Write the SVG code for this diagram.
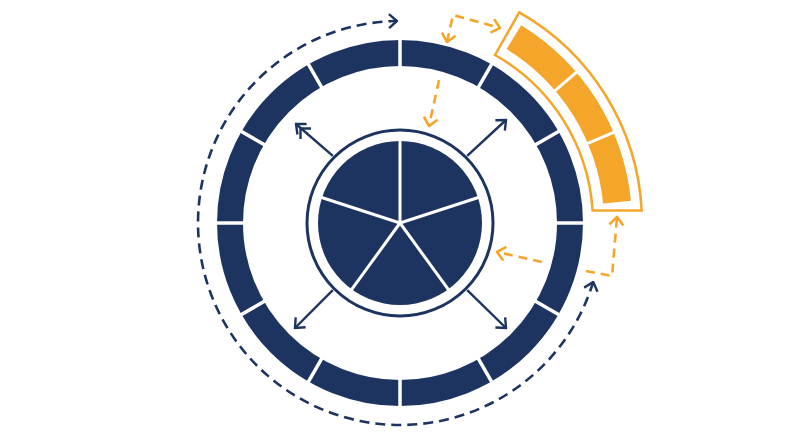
<svg xmlns="http://www.w3.org/2000/svg" width="800" height="447" viewBox="0 0 800 447">
  <style>
    .navy-fill { fill: #1d3461; }
    .ring { fill: none; stroke: #1d3461; stroke-width: 26; }
    .sep { stroke: #ffffff; stroke-width: 3.5; }
    .pie-sep { stroke: #ffffff; stroke-width: 3; }
    .outline { fill: none; stroke: #1d3461; stroke-width: 3; }
    .arrow { fill: none; stroke: #1d3461; stroke-width: 2.4; }
    .navy-dash { fill: none; stroke: #1d3461; stroke-width: 2.6; stroke-dasharray: 10 6; }
    .org-dash { fill: none; stroke: #f4a62a; stroke-width: 2.6; stroke-dasharray: 9 6; }
    .org-fill { fill: #f4a62a; }
    .org-outline { fill: none; stroke: #f4a62a; stroke-width: 2.5; stroke-linejoin: miter; }
  </style>
  <defs>
    <marker id="ah-navy" viewBox="0 0 11 16" refX="9.5" refY="8" markerWidth="11" markerHeight="16" markerUnits="userSpaceOnUse" orient="auto-start-reverse">
      <path d="M1.5,1 L9.5,8 L1.5,15" fill="none" stroke="#1d3461" stroke-width="2.4" stroke-dasharray="none"/>
    </marker>
    <marker id="ah-org" viewBox="0 0 11 16" refX="9.5" refY="8" markerWidth="11" markerHeight="16" markerUnits="userSpaceOnUse" orient="auto-start-reverse">
      <path d="M1.5,1 L9.5,8 L1.5,15" fill="none" stroke="#f4a62a" stroke-width="2.6" stroke-dasharray="none"/>
    </marker>
  </defs>

  <rect width="800" height="447" fill="#ffffff"/>

  <g id="outer-ring">
    <circle class="ring" cx="400" cy="223" r="170"/>
    <g class="sep">
      <line x1="400" y1="33" x2="400" y2="73"/>
      <line x1="400" y1="33" x2="400" y2="73" transform="rotate(30 400 223)"/>
      <line x1="400" y1="33" x2="400" y2="73" transform="rotate(60 400 223)"/>
      <line x1="400" y1="33" x2="400" y2="73" transform="rotate(90 400 223)"/>
      <line x1="400" y1="33" x2="400" y2="73" transform="rotate(120 400 223)"/>
      <line x1="400" y1="33" x2="400" y2="73" transform="rotate(150 400 223)"/>
      <line x1="400" y1="33" x2="400" y2="73" transform="rotate(180 400 223)"/>
      <line x1="400" y1="33" x2="400" y2="73" transform="rotate(210 400 223)"/>
      <line x1="400" y1="33" x2="400" y2="73" transform="rotate(240 400 223)"/>
      <line x1="400" y1="33" x2="400" y2="73" transform="rotate(270 400 223)"/>
      <line x1="400" y1="33" x2="400" y2="73" transform="rotate(300 400 223)"/>
      <line x1="400" y1="33" x2="400" y2="73" transform="rotate(330 400 223)"/>
    </g>
  </g>

  <g id="core">
    <circle class="outline" cx="400" cy="223" r="93"/>
    <circle class="navy-fill" cx="400" cy="223" r="82"/>
    <g class="pie-sep">
      <line x1="400" y1="223" x2="400" y2="139"/>
      <line x1="400" y1="223" x2="400" y2="139" transform="rotate(72 400 223)"/>
      <line x1="400" y1="223" x2="400" y2="139" transform="rotate(144 400 223)"/>
      <line x1="400" y1="223" x2="400" y2="139" transform="rotate(216 400 223)"/>
      <line x1="400" y1="223" x2="400" y2="139" transform="rotate(288 400 223)"/>
    </g>
  </g>

  <g id="orange-block">
    <path class="org-outline" d="M495,55 L519.2,12.4 A242 242 0 0 1 641.7,210.5 L592.6,210.5 A193 193 0 0 0 495,55 Z"/>
    <path class="org-fill" d="M506.6,49.1 L521.2,25.2 A232 232 0 0 1 630.9,200.8 L603.1,203.5 A204 204 0 0 0 506.6,49.1 Z"/>
    <line class="pie-sep" x1="552.1" y1="93.1" x2="579.5" y2="69.7"/>
    <line class="pie-sep" x1="584.1" y1="144.9" x2="617.2" y2="130.8"/>
  </g>

  <g id="connectors">
    <line class="arrow" x1="467.2" y1="155.8" x2="506" y2="120" marker-end="url(#ah-navy)"/>
    <line class="arrow" x1="467.2" y1="290.2" x2="506" y2="328" marker-end="url(#ah-navy)"/>
    <line class="arrow" x1="332.8" y1="290.2" x2="295" y2="328" marker-end="url(#ah-navy)"/>
    <line class="arrow" x1="332.8" y1="155.8" x2="296" y2="124" marker-end="url(#ah-navy)"/>
    <path class="arrow" d="M300.5,139 L300.5,128.5 L311,128.5"/>

    <path class="navy-dash" d="M593.2,282 A202 202 0 1 1 397,21" marker-start="url(#ah-navy)" marker-end="url(#ah-navy)"/>

    <path class="org-dash" d="M447,42 L453,15 L500,28" marker-start="url(#ah-org)" marker-end="url(#ah-org)"/>
    <path class="org-dash" d="M439,80 L429,126" marker-end="url(#ah-org)"/>
    <path class="org-dash" d="M542,262 L497,252" marker-end="url(#ah-org)"/>
    <path class="org-dash" d="M586,271 L612,276 L617,217" marker-end="url(#ah-org)"/>
  </g>
</svg>
